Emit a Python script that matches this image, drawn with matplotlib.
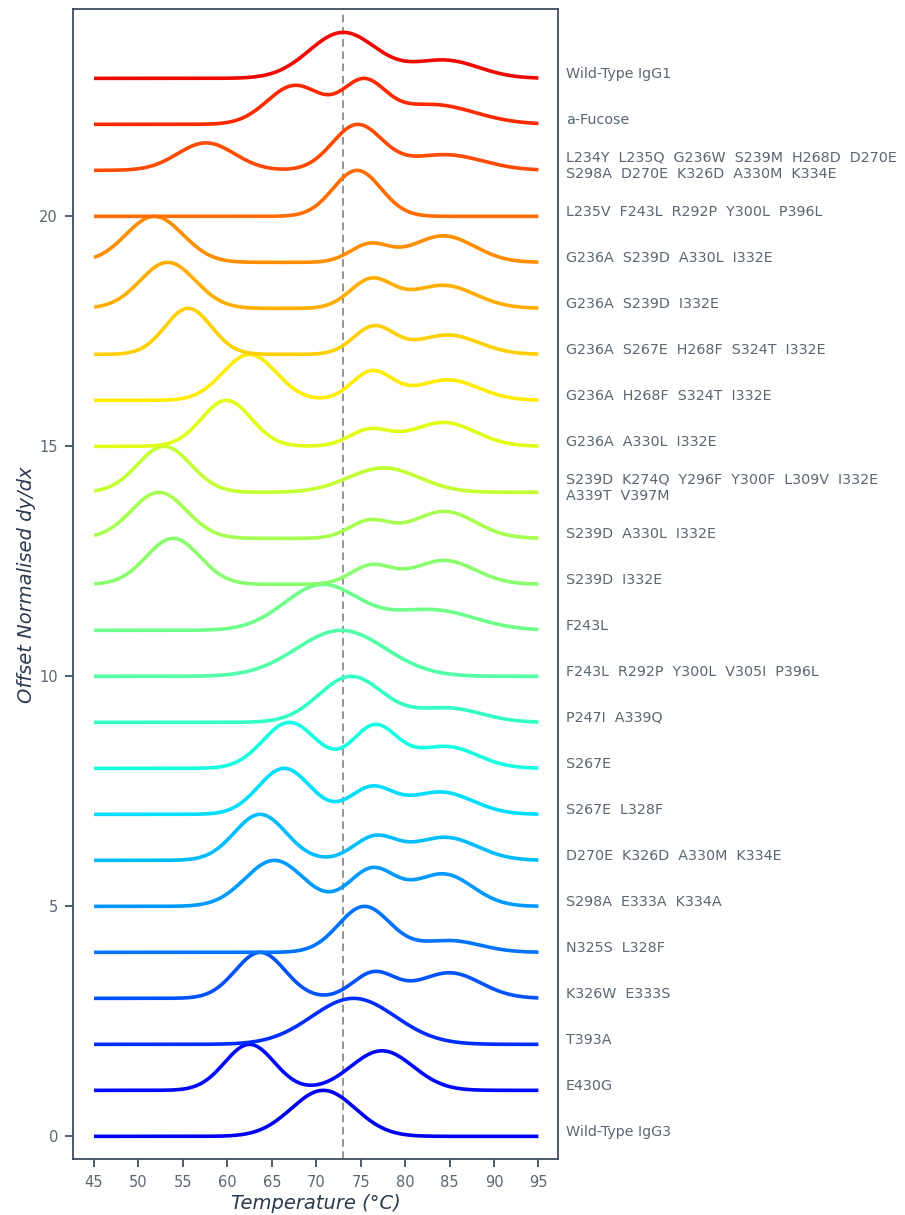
import numpy as np
import matplotlib
matplotlib.use("Agg")
import matplotlib.pyplot as plt

# Variants, listed from the bottom trace (offset 0) to the top trace
variant_labels = [
    ["Wild-Type IgG3"],
    ["E430G"],
    ["T393A"],
    ["K326W", "E333S"],
    ["N325S", "L328F"],
    ["S298A", "E333A", "K334A"],
    ["D270E", "K326D", "A330M", "K334E"],
    ["S267E", "L328F"],
    ["S267E"],
    ["P247I", "A339Q"],
    ["F243L", "R292P", "Y300L", "V305I", "P396L"],
    ["F243L"],
    ["S239D", "I332E"],
    ["S239D", "A330L", "I332E"],
    ["S239D", "K274Q", "Y296F", "Y300F", "L309V", "I332E", "\nA339T", "V397M"],
    ["G236A", "A330L", "I332E"],
    ["G236A", "H268F", "S324T", "I332E"],
    ["G236A", "S267E", "H268F", "S324T", "I332E"],
    ["G236A", "S239D", "I332E"],
    ["G236A", "S239D", "A330L", "I332E"],
    ["L235V", "F243L", "R292P", "Y300L", "P396L"],
    ["L234Y", "L235Q", "G236W", "S239M", "H268D", "D270E", "\nS298A", "D270E", "K326D", "A330M", "K334E"],
    ["a-Fucose"],
    ["Wild-Type IgG1"],
]

# Fitted transition peaks for each variant: centre (°C), relative height, width (°C)
peak_centres = [
    [70.8],
    [62.5, 77.4],
    [74.2],
    [63.7, 76.5, 85.0],
    [75.4, 85.0],
    [65.3, 76.3, 84.3],
    [63.7, 76.6, 84.5],
    [66.4, 76.2, 84.0],
    [67.0, 76.6, 84.6],
    [73.9, 84.8],
    [72.8],
    [70.6, 83.0],
    [53.9, 76.2, 84.4],
    [52.3, 76.0, 84.4],
    [52.9, 77.6],
    [59.9, 76.0, 84.3],
    [62.5, 76.3, 84.8],
    [55.6, 76.5, 84.8],
    [53.3, 76.2, 84.3],
    [51.8, 76.0, 84.3],
    [74.6],
    [57.6, 74.6, 84.5],
    [67.6, 75.3, 83.0],
    [73.0, 84.5],
]
peak_heights = [
    [1.0],
    [1.0, 0.86],
    [1.0],
    [0.99, 0.55, 0.55],
    [0.98, 0.25],
    [0.97, 0.78, 0.68],
    [1.0, 0.50, 0.50],
    [0.97, 0.55, 0.47],
    [0.95, 0.87, 0.45],
    [0.97, 0.30],
    [1.0],
    [1.0, 0.45],
    [1.0, 0.40, 0.52],
    [0.99, 0.37, 0.58],
    [1.0, 0.53],
    [1.0, 0.35, 0.52],
    [0.99, 0.62, 0.44],
    [1.0, 0.60, 0.42],
    [1.0, 0.62, 0.50],
    [0.99, 0.38, 0.57],
    [1.0],
    [0.58, 0.95, 0.33],
    [0.88, 0.88, 0.45],
    [0.97, 0.38],
]
peak_widths = [
    [3.6],
    [2.8, 3.5],
    [4.7],
    [2.8, 2.4, 3.5],
    [2.9, 3.5],
    [3.3, 2.6, 3.3],
    [2.9, 2.4, 3.6],
    [2.9, 2.4, 3.6],
    [3.0, 2.5, 3.5],
    [3.6, 3.8],
    [5.0],
    [4.2, 4.8],
    [3.0, 2.3, 3.5],
    [3.1, 2.3, 3.5],
    [3.0, 4.0],
    [2.8, 2.3, 3.6],
    [3.0, 2.3, 3.5],
    [2.6, 2.3, 3.5],
    [3.1, 2.4, 3.6],
    [3.2, 2.2, 3.5],
    [2.7],
    [3.2, 2.8, 4.2],
    [3.1, 2.4, 4.8],
    [3.8, 3.8],
]

t_min, t_max = 45.0, 95.0
reference_tm = 73.0

temperature = np.linspace(t_min, t_max, 600)

fig = plt.figure(figsize=(9.05, 12.15), dpi=100)
ax = fig.add_axes([0.081, 0.0458, 0.617 - 0.081, 0.9923 - 0.0458])

spine_col = "#3f4d5c"
tick_col = "#5b6673"
label_col = "#2b3a4e"

cmap = plt.get_cmap("jet")
n = len(variant_labels)

for k in range(n):
    dydx = np.zeros_like(temperature)
    for c, h, w in zip(peak_centres[k], peak_heights[k], peak_widths[k]):
        dydx += h * np.exp(-0.5 * ((temperature - c) / w) ** 2)
    dydx = dydx / dydx.max()
    colour = cmap(0.1 + 0.8 * k / (n - 1))
    ax.plot(temperature, dydx + k, color=colour, lw=2.6, solid_capstyle="butt", zorder=3)

    text = "  ".join(variant_labels[k]).replace("  \n", "\n")
    ax.annotate(text, xy=(1.015, k + 0.1), xycoords=("axes fraction", "data"),
                va="center", ha="left", fontsize=10.3, color=tick_col,
                linespacing=1.25, annotation_clip=False)

ax.axvline(reference_tm, color="#777777", lw=1.1, ls=(0, (5, 3)), zorder=2)

ax.set_xlim(42.67, 97.25)
ax.set_ylim(-0.5, 24.5)
ax.set_xticks(np.arange(45, 96, 5))
ax.set_yticks([0, 5, 10, 15, 20])

for s in ax.spines.values():
    s.set_color(spine_col)
    s.set_linewidth(1.3)
ax.tick_params(axis="both", colors=spine_col, labelcolor=tick_col, labelsize=10.5,
               length=6, width=1.3, direction="out", pad=5)

ax.set_xlabel("Temperature (°C)", fontsize=14, fontstyle="italic", color=label_col, labelpad=3)
ax.set_ylabel("Offset Normalised dy/dx", fontsize=14, fontstyle="italic", color=label_col, labelpad=2)

fig.savefig("out.png", dpi=100, facecolor="white")
